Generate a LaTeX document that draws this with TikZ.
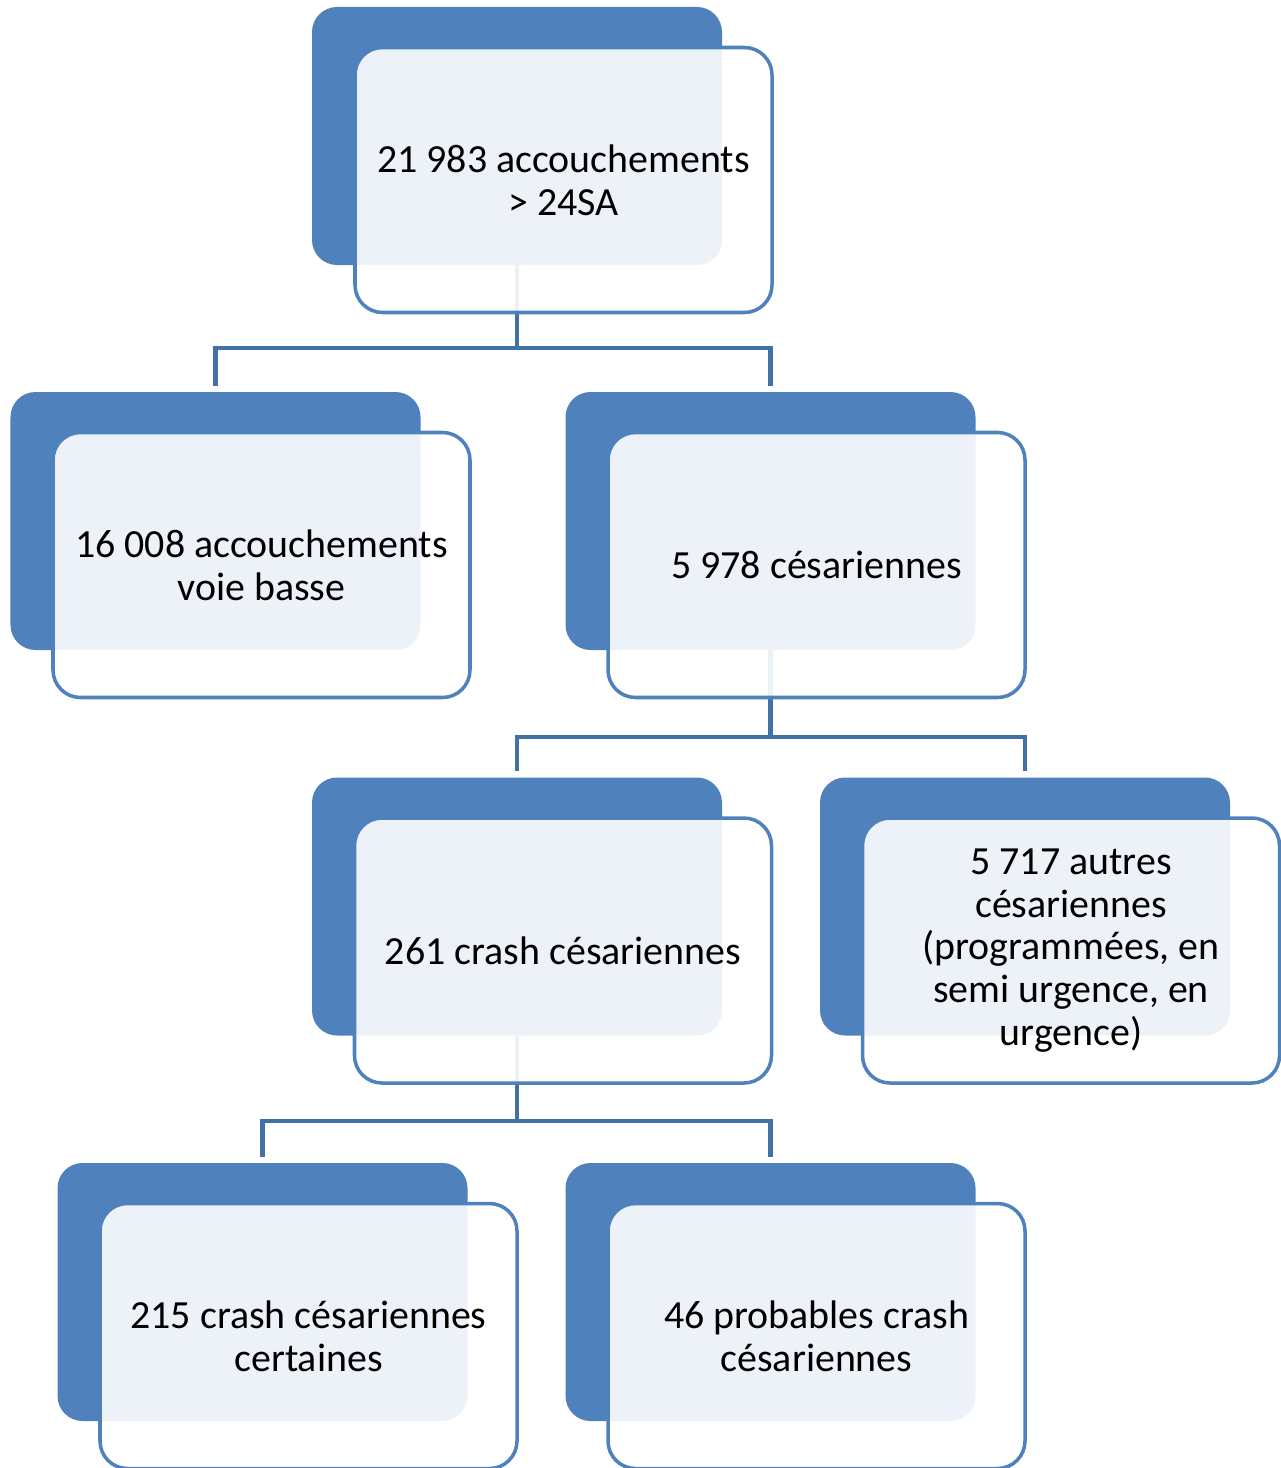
\documentclass[tikz,border=0pt]{standalone}
\usepackage{fontspec}
\setmainfont{Carlito}
\usepackage{tikz}
\definecolor{accent}{RGB}{79,129,189}
\definecolor{connblue}{RGB}{65,113,165}

\begin{document}
\begin{tikzpicture}[>=latex,
    back/.style={fill=accent,rounded corners=0.5cm,minimum width=8.2cm,minimum height=5.16cm},
    front/.style={draw=accent,line width=2pt,fill=white,fill opacity=0.9,text opacity=1,
        rounded corners=0.55cm,minimum width=8.34cm,minimum height=5.3cm,align=center,
        font=\fontsize{22.7}{24.3}\selectfont},
    conn/.style={draw=connblue,line width=2.3pt,shorten >=0.12cm}]
    \useasboundingbox (0,0) rectangle (25.6,-29.36);
    % dark boxes
    \node[back] (acc) at (10.34,-2.72) {};
    \node[back] (vb) at (4.31,-10.42) {};
    \node[back] (ces) at (15.41,-10.42) {};
    \node[back] (crash) at (10.34,-18.13) {};
    \node[back] (autres) at (20.5,-18.13) {};
    \node[back] (cert) at (5.25,-25.84) {};
    \node[back] (prob) at (15.41,-25.84) {};
    % connectors
    \draw[conn] (acc.south) -- ++(0,-1.66) -| (vb.north);
    \draw[conn] (acc.south) -- ++(0,-1.66) -| (ces.north);
    \draw[conn] (ces.south) -- ++(0,-1.74) -| (crash.north);
    \draw[conn] (ces.south) -- ++(0,-1.74) -| (autres.north);
    \draw[conn] (crash.south) -- ++(0,-1.71) -| (cert.north);
    \draw[conn] (crash.south) -- ++(0,-1.71) -| (prob.north);
    % text boxes
    \node[front] (acc-t) at (11.27,-3.6) {21 983 accouchements\\> 24SA};
    \node[front] (vb-t) at (5.23,-11.3) {16 008 accouchements\\voie basse};
    \node[front] (ces-t) at (16.33,-11.3) {5 978 césariennes};
    \node[front] (crash-t) at (11.26,-19.01) {261 crash césariennes};
    \node[front] (autres-t) at (21.42,-19.01) {5 717 autres\\césariennes\\(programmées, en\\semi urgence, en\\urgence)};
    \node[front] (cert-t) at (6.17,-26.72) {215 crash césariennes\\certaines};
    \node[front] (prob-t) at (16.33,-26.72) {46 probables crash\\césariennes};
\end{tikzpicture}
\end{document}
